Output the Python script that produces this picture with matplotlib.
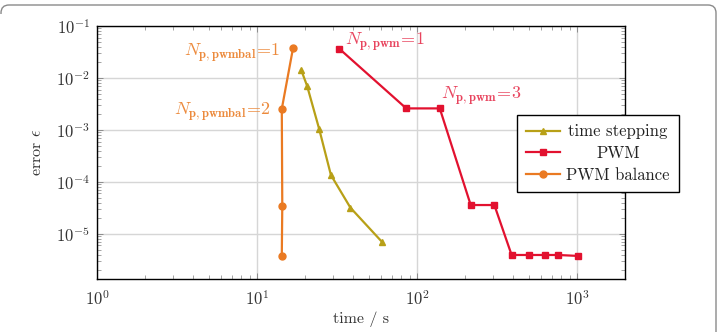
import matplotlib
matplotlib.use("Agg")
import matplotlib.pyplot as plt
from matplotlib.path import Path
from matplotlib.patches import PathPatch
import numpy as np

plt.rcParams['mathtext.fontset'] = 'cm'
plt.rcParams['font.family'] = ['cmr10', 'DejaVu Serif']
plt.rcParams['axes.formatter.use_mathtext'] = True

# data
ts_time = [18.9, 20.6, 24.5, 29.0, 38.4, 60.6]
ts_err = [1.43e-2, 7.0e-3, 1.04e-3, 1.36e-4, 3.2e-5, 7.0e-6]

pwm_time = [32.7, 85.8, 139, 217, 305, 391, 502, 634, 761, 1016]
pwm_err = [3.66e-2, 2.6e-3, 2.6e-3, 3.6e-5, 3.6e-5, 3.94e-6, 3.94e-6, 3.94e-6, 3.94e-6, 3.78e-6]

bal_time = [16.8, 14.3, 14.4, 14.3]
bal_err = [3.72e-2, 2.54e-3, 3.5e-5, 3.78e-6]

c_ts = '#b8a017'
c_pwm = '#e2112f'
c_bal = '#ea7a22'

W, H = 717, 332
fig = plt.figure(figsize=(W/100, H/100), dpi=100)
ax = fig.add_axes([97/W, 1-279/H, (625-97)/W, (279-26)/H])

ax.plot(ts_time, ts_err, color=c_ts, lw=1.6, marker='^', ms=4.5, label='time stepping')
ax.plot(pwm_time, pwm_err, color=c_pwm, lw=1.6, marker='s', ms=4.5, label='PWM')
ax.plot(bal_time, bal_err, color=c_bal, lw=1.6, marker='o', ms=5, label='PWM balance')

ax.set_xscale('log')
ax.set_yscale('log')
ax.set_xlim(1, 2000)
ax.set_ylim(1.36e-6, 1e-1)
ax.grid(True, which='major', color='#d6d6d6', lw=1)
ax.set_axisbelow(True)
ax.tick_params(which='both', direction='in', top=True, right=True, color='#808080',
               labelsize=12, labelcolor='#333333')
ax.tick_params(which='major', length=4, width=0.6)
ax.tick_params(which='minor', length=3, width=0.5)
ax.set_yticks([1e-5, 1e-4, 1e-3, 1e-2, 1e-1])
ax.set_xticks([1, 10, 100, 1000])
ax.tick_params(axis='x', pad=7)
ax.tick_params(axis='y', pad=5)
for s in ax.spines.values():
    s.set_linewidth(1.0)
    s.set_color('black')

ax.set_xlabel('time / s', fontsize=11.5, labelpad=3, color='#333333')
ax.set_ylabel(r'error $\epsilon$', fontsize=11.5, labelpad=9, color='#333333')

tc_bal = '#ec8a3c'
tc_pwm = '#e8445e'
ax.annotate(r'$N_{\mathbf{p,pwmbal}}\!=\!1$', xy=(bal_time[0], bal_err[0]), xytext=(-9, -3),
            textcoords='offset points', ha='right', va='center', color=tc_bal, fontsize=13)
ax.annotate(r'$N_{\mathbf{p,pwmbal}}\!=\!2$', xy=(bal_time[1], bal_err[1]), xytext=(-8, -2),
            textcoords='offset points', ha='right', va='center', color=tc_bal, fontsize=13)
ax.annotate(r'$N_{\mathbf{p,pwm}}\!=\!1$', xy=(pwm_time[0], pwm_err[0]), xytext=(4, 5),
            textcoords='offset points', ha='left', va='center', color=tc_pwm, fontsize=13)
ax.annotate(r'$N_{\mathbf{p,pwm}}\!=\!3$', xy=(pwm_time[2], pwm_err[2]), xytext=(1, 9),
            textcoords='offset points', ha='left', va='center', color=tc_pwm, fontsize=13)

leg = ax.legend(loc='upper left', bbox_to_anchor=((517-97)/528, 1-(115-26)/253), fancybox=False,
                edgecolor='black', framealpha=1, fontsize=12, handlelength=2.0, borderpad=0.55,
                labelspacing=0.38, handletextpad=0.4, borderaxespad=0)
leg.get_frame().set_linewidth(1.0)
for t in leg.get_texts():
    t.set_color('#222222')
fig.canvas.draw()
renderer = fig.canvas.get_renderer()
widths = [t.get_window_extent(renderer).width for t in leg.get_texts()]
wmax = max(widths)
for t, w in zip(leg.get_texts(), widths):
    t.set_position(((wmax - w) / 2, 0))

# figure frame (top + right edges with rounded corners)
def px(x, y):
    return (x / W, 1 - y / H)
r = 8
verts = [px(1, 14), px(1, 5 + r), px(1, 5), px(1 + r, 5), px(716 - r, 5), px(716, 5), px(716, 5 + r), px(716, 340)]
codes = [Path.MOVETO, Path.LINETO, Path.CURVE3, Path.CURVE3, Path.LINETO, Path.CURVE3, Path.CURVE3, Path.LINETO]
frame = PathPatch(Path(verts, codes), transform=fig.transFigure, fill=False, edgecolor='#8a8a8a', lw=1.0, clip_on=False)
fig.patches.append(frame)

fig.savefig('out.png', dpi=100)
